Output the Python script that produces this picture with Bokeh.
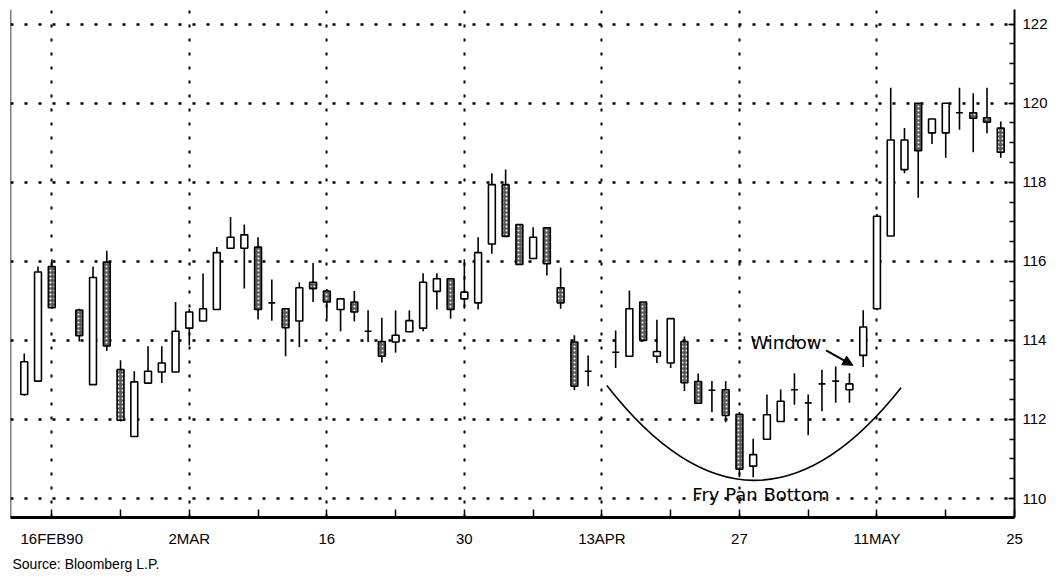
import numpy as np
from bokeh.plotting import figure
from bokeh.models import (Range1d, FixedTicker, Label, Arrow, NormalHead,
                          ColumnDataSource, Span, Title)
from bokeh.embed import file_html
from bokeh.resources import INLINE

# ---------------- data ----------------
dates = ["1990-02-14", "1990-02-15", "1990-02-16", "1990-02-20", "1990-02-21",
         "1990-02-22", "1990-02-23", "1990-02-26", "1990-02-27", "1990-02-28",
         "1990-03-01", "1990-03-02", "1990-03-05", "1990-03-06", "1990-03-07",
         "1990-03-08", "1990-03-09", "1990-03-12", "1990-03-13", "1990-03-14",
         "1990-03-15", "1990-03-16", "1990-03-19", "1990-03-20", "1990-03-21",
         "1990-03-22", "1990-03-23", "1990-03-26", "1990-03-27", "1990-03-28",
         "1990-03-29", "1990-03-30", "1990-04-02", "1990-04-03", "1990-04-04",
         "1990-04-05", "1990-04-06", "1990-04-09", "1990-04-10", "1990-04-11",
         "1990-04-12", "1990-04-16", "1990-04-17", "1990-04-18", "1990-04-19",
         "1990-04-20", "1990-04-23", "1990-04-24", "1990-04-25", "1990-04-26",
         "1990-04-27", "1990-04-30", "1990-05-01", "1990-05-02", "1990-05-03",
         "1990-05-04", "1990-05-07", "1990-05-08", "1990-05-09", "1990-05-10",
         "1990-05-11", "1990-05-14", "1990-05-15", "1990-05-16", "1990-05-17",
         "1990-05-18", "1990-05-21", "1990-05-22", "1990-05-23", "1990-05-24"]

opens = [112.63, 112.97, 115.87, 114.77, 112.88, 115.98, 113.26, 111.57, 112.92, 113.20,
         113.20, 114.31, 114.49, 114.78, 116.33, 116.33, 116.36, 114.95, 114.80, 114.49,
         115.47, 115.25, 114.78, 114.97, 114.23, 113.97, 113.96, 114.22, 114.31, 115.24,
         115.56, 115.05, 114.95, 116.44, 117.94, 116.93, 116.07, 116.85, 115.33, 113.96,
         113.22, 113.70, 113.60, 114.97, 113.60, 113.43, 113.97, 112.96, 112.74, 112.75,
         112.13, 110.82, 111.50, 111.95, 112.75, 112.42, 112.90, 112.97, 112.75, 113.62,
         114.80, 116.64, 118.32, 120.00, 119.25, 119.25, 119.76, 119.76, 119.63, 119.37]

highs = [113.67, 115.87, 116.05, 114.80, 115.87, 116.27, 113.50, 113.22, 113.85, 113.85,
         114.97, 114.80, 115.69, 116.36, 117.12, 116.93, 116.61, 115.54, 114.80, 115.47,
         115.96, 115.30, 115.05, 115.25, 114.76, 114.57, 114.76, 114.76, 115.70, 115.70,
         115.56, 116.05, 116.61, 118.23, 118.32, 116.93, 116.86, 116.85, 115.84, 114.13,
         113.62, 114.25, 115.26, 114.97, 114.52, 114.55, 114.10, 113.16, 112.97, 112.97,
         112.19, 111.51, 112.63, 112.76, 113.17, 112.63, 113.26, 113.34, 113.17, 114.76,
         117.20, 120.39, 119.37, 120.00, 119.60, 120.00, 120.39, 120.25, 120.39, 119.54]

lows = [112.60, 112.95, 114.80, 113.97, 112.88, 113.73, 111.95, 111.57, 112.90, 112.92,
        113.20, 113.87, 114.49, 114.78, 116.33, 115.31, 114.53, 114.50, 113.60, 113.83,
        114.97, 114.55, 114.23, 114.48, 113.96, 113.44, 113.69, 114.22, 114.23, 114.78,
        114.55, 114.80, 114.78, 116.19, 116.63, 115.92, 116.07, 115.64, 114.80, 112.74,
        112.84, 113.30, 113.60, 114.00, 113.43, 113.30, 112.72, 112.41, 112.18, 111.93,
        110.54, 110.54, 111.50, 111.95, 112.37, 111.60, 112.21, 112.42, 112.42, 113.33,
        114.76, 116.64, 118.23, 117.61, 118.97, 118.62, 119.33, 118.76, 119.24, 118.62]

closes = [113.46, 115.73, 114.83, 114.12, 115.59, 113.86, 111.98, 112.95, 113.22, 113.43,
          114.23, 114.72, 114.80, 116.22, 116.61, 116.67, 114.78, 114.95, 114.32, 115.33,
          115.31, 114.97, 115.05, 114.72, 114.23, 113.60, 114.13, 114.50, 115.47, 115.56,
          114.78, 115.22, 116.22, 117.94, 116.63, 115.92, 116.61, 115.94, 114.95, 112.84,
          113.22, 113.70, 114.80, 114.00, 113.72, 114.55, 112.93, 112.41, 112.74, 112.10,
          110.74, 111.11, 112.12, 112.46, 112.75, 112.42, 112.90, 112.97, 112.90, 114.34,
          117.14, 119.07, 119.07, 118.80, 119.60, 120.00, 119.76, 119.62, 119.52, 118.76]

base_date = "1990-02-16"
tick_dates = ["1990-02-16", "1990-03-02", "1990-03-16", "1990-03-30",
              "1990-04-13", "1990-04-27", "1990-05-11", "1990-05-25"]
tick_labels = ["16FEB90", "2MAR", "16", "30", "13APR", "27", "11MAY", "25"]
price_ticks = [110, 112, 114, 116, 118, 120, 122]

# ---------------- derived ----------------
x = np.busday_count(base_date, dates).astype(float)
tick_x = np.busday_count(base_date, tick_dates).astype(float)
o = np.array(opens); c = np.array(closes)
top = np.maximum(o, c); bot = np.minimum(o, c)
up = c >= o

src_up = ColumnDataSource(dict(x=x[up], top=top[up], bottom=bot[up]))
src_dn = ColumnDataSource(dict(x=x[~up], top=top[~up], bottom=bot[~up]))
src_w = ColumnDataSource(dict(x=x, high=highs, low=lows))

FONT = "Liberation Sans"
ANN_FONT = "DejaVu Sans"
FRAME_W, FRAME_H = 1004, 508

p = figure(x_range=Range1d(tick_x[0] - 3, tick_x[-1]),
           y_range=Range1d(109.52, 122.37),
           frame_width=FRAME_W, frame_height=FRAME_H,
           y_axis_location="right",
           output_backend="svg", toolbar_location=None,
           min_border_left=10, min_border_top=9, min_border_right=0,
           min_border_bottom=58)
p.outline_line_color = None
p.background_fill_color = "white"
p.border_fill_color = "white"

# x axis
p.xaxis.ticker = FixedTicker(ticks=list(tick_x),
                             minor_ticks=list((tick_x[:-1] + tick_x[1:]) / 2))
p.xaxis.major_label_overrides = {float(t): l for t, l in zip(tick_x, tick_labels)}
p.xaxis.axis_line_width = 3
p.xaxis.axis_line_color = "black"
p.xaxis.major_tick_in = 8
p.xaxis.major_tick_out = 0
p.xaxis.minor_tick_in = 8
p.xaxis.minor_tick_out = 0
p.xaxis.major_tick_line_width = 1.5
p.xaxis.minor_tick_line_width = 1.5
p.xaxis.major_tick_line_color = "black"
p.xaxis.minor_tick_line_color = "black"
p.xaxis.major_label_standoff = 12
p.xaxis.major_label_text_font = FONT
p.xaxis.major_label_text_font_size = "15px"
p.xaxis.major_label_text_color = "black"

# y axis (right)
p.yaxis.ticker = FixedTicker(ticks=price_ticks,
                             minor_ticks=list(np.arange(price_ticks[0] - 0.5, price_ticks[-1] + 0.5, 0.5)))
p.yaxis.axis_line_width = 2
p.yaxis.axis_line_color = "black"
p.yaxis.major_tick_in = 6
p.yaxis.major_tick_out = 0
p.yaxis.minor_tick_in = 5
p.yaxis.minor_tick_out = 0
p.yaxis.major_tick_line_width = 1.5
p.yaxis.minor_tick_line_width = 1.5
p.yaxis.major_tick_line_color = "black"
p.yaxis.minor_tick_line_color = "black"
p.yaxis.major_label_standoff = 8
p.yaxis.major_label_text_font = FONT
p.yaxis.major_label_text_font_size = "15px"
p.yaxis.major_label_text_color = "black"

# grids
p.xgrid.grid_line_color = "black"
p.xgrid.grid_line_dash = "3 11"
p.xgrid.grid_line_width = 2
p.ygrid.grid_line_color = "black"
p.ygrid.grid_line_dash = "3 11"
p.ygrid.grid_line_width = 2.5

# left frame line
p.add_layout(Span(location=tick_x[0] - 3, dimension="height",
                  line_color="black", line_width=1.5))

# candles
p.segment(x0="x", y0="low", x1="x", y1="high", source=src_w,
          line_color="black", line_width=1.6)
p.vbar(x="x", width=0.5, top="top", bottom="bottom", source=src_up,
       fill_color="white", line_color="black", line_width=1.6)
p.vbar(x="x", width=0.5, top="top", bottom="bottom", source=src_dn,
       fill_color="#5a5a5a", line_color="black", line_width=1.6,
       hatch_pattern=".", hatch_color="white", hatch_scale=4, hatch_weight=1)

# Fry pan bottom curve
pan_x0, pan_y0, pan_x1, pan_y1, pan_cx, pan_cy = 40.36, 112.86, 61.75, 112.80, 51.05, 108.09
p.quadratic(x0=[pan_x0], y0=[pan_y0], x1=[pan_x1], y1=[pan_y1],
            cx=[pan_cx], cy=[pan_cy], line_color="black", line_width=1.6)

p.add_layout(Label(x=51.56, y=110.10, text="Fry Pan Bottom", text_align="center",
                   text_baseline="middle", text_font=ANN_FONT, text_font_size="18px",
                   text_color="black"))
p.add_layout(Label(x=50.8, y=113.95, text="Window", text_align="left",
                   text_baseline="middle", text_font=ANN_FONT, text_font_size="18px",
                   text_color="black"))
p.add_layout(Arrow(end=NormalHead(size=10, fill_color="black", line_color="black"),
                   x_start=56.3, y_start=113.75, x_end=58.25, y_end=113.37,
                   line_color="black", line_width=2))

# source note below the axis
p.add_layout(Title(text="Source: Bloomberg L.P.", align="left", offset=2,
                   text_font=FONT, text_font_size="14px", text_font_style="normal",
                   text_color="black", standoff=8), "below")

open("out.html", "w").write(file_html(p, INLINE))
